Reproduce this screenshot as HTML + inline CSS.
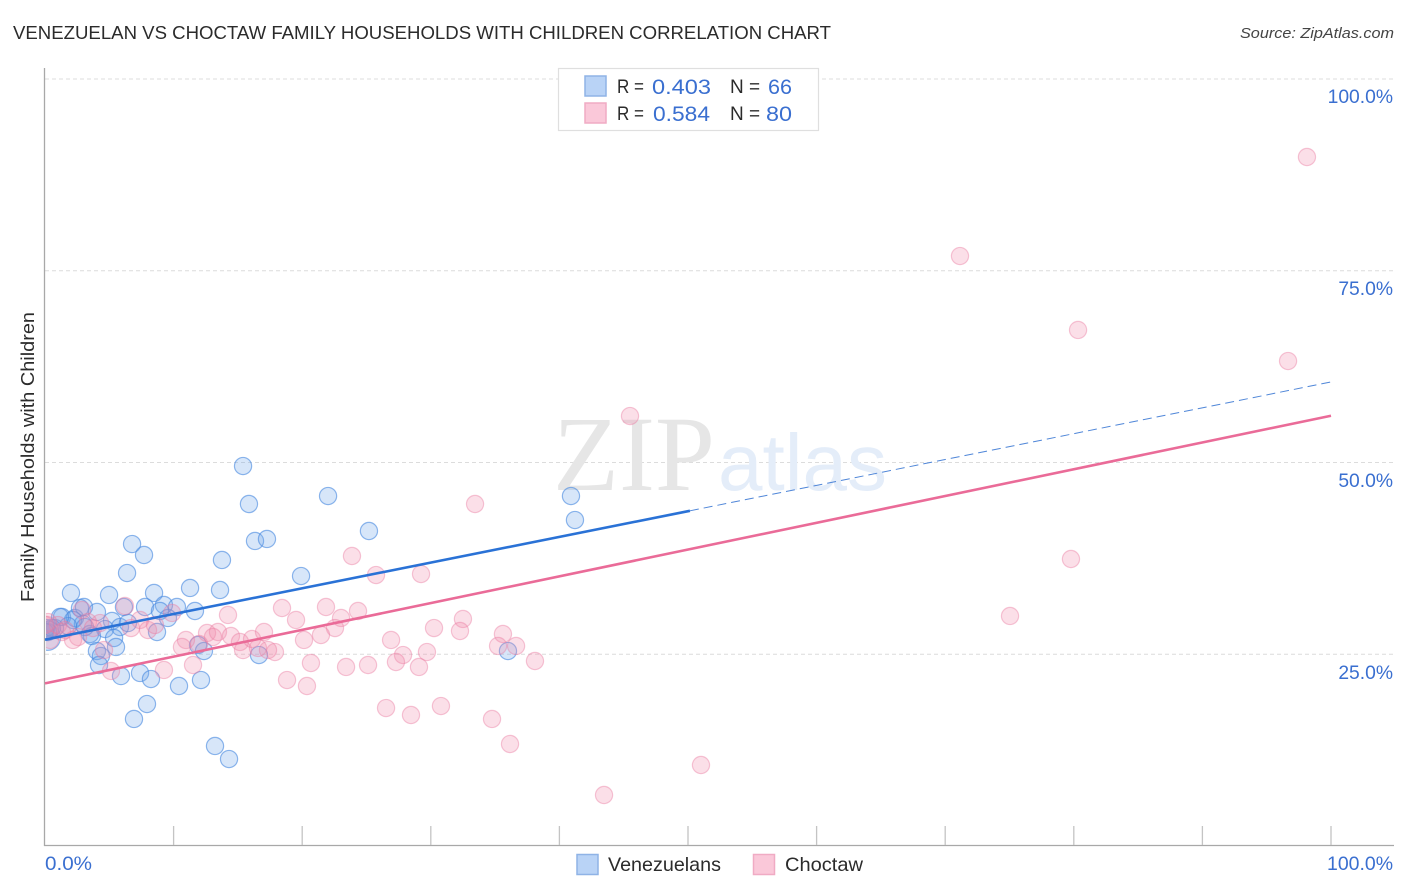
<!DOCTYPE html>
<html lang="en">
<head>
<meta charset="utf-8">
<title>Venezuelan vs Choctaw Family Households with Children Correlation Chart</title>
<style>
html,body{margin:0;padding:0;background:#fff;width:1406px;height:892px;overflow:hidden}
svg{display:block;font-family:"Liberation Sans",sans-serif}
</style>
</head>
<body>
<svg id="chart" width="1406" height="892" viewBox="0 0 1406 892" xmlns="http://www.w3.org/2000/svg">
  <defs><clipPath id="plot-clip"><rect x="46" y="60" width="1350" height="786"/></clipPath></defs>
  <rect x="0" y="0" width="1406" height="892" fill="#fff"/>
  <text x="13" y="39" font-size="18.5" fill="#2b2b2b" textLength="818" lengthAdjust="spacingAndGlyphs">VENEZUELAN VS CHOCTAW FAMILY HOUSEHOLDS WITH CHILDREN CORRELATION CHART</text>
  <text x="1394" y="38" font-size="15" font-style="italic" fill="#444" text-anchor="end" textLength="154" lengthAdjust="spacingAndGlyphs">Source: ZipAtlas.com</text>
  <g id="grid"></g>
  <g>
    <text x="553" y="490" font-family="'Liberation Serif',serif" font-size="107" fill="#e6e6e6" textLength="162" lengthAdjust="spacingAndGlyphs">ZIP</text>
    <text x="718" y="490" font-size="80" fill="#e4edf9" textLength="169" lengthAdjust="spacingAndGlyphs">atlas</text>
  </g>
  <g id="axes"></g>
  <g id="points" clip-path="url(#plot-clip)"></g>
  <g id="trends"></g>
  <g id="tick-labels"></g>
  <text transform="translate(34,457) rotate(-90)" font-size="18.5" fill="#2b2b2b" text-anchor="middle" textLength="290" lengthAdjust="spacingAndGlyphs">Family Households with Children</text>

  <g>
    <rect x="558.5" y="68.5" width="260" height="62" fill="#fff" stroke="#dfdfdf" stroke-width="1.2"/>
    <rect x="585" y="76" width="21" height="20" fill="#b9d3f6" stroke="#8fb3e6" stroke-width="1.5"/>
    <rect x="585" y="103" width="21" height="20" fill="#fac8d9" stroke="#f0abc4" stroke-width="1.5"/>
    <text x="617" y="93" font-size="19" fill="#2b2b2b" textLength="27" lengthAdjust="spacingAndGlyphs">R =</text>
    <text x="652" y="94" font-size="21" fill="#3a6fd0" textLength="59" lengthAdjust="spacingAndGlyphs">0.403</text>
    <text x="730" y="93" font-size="19" fill="#2b2b2b">N =</text>
    <text x="768" y="94" font-size="21" fill="#3a6fd0" textLength="24" lengthAdjust="spacingAndGlyphs">66</text>
    <text x="617" y="120" font-size="19" fill="#2b2b2b" textLength="27" lengthAdjust="spacingAndGlyphs">R =</text>
    <text x="653" y="121" font-size="21" fill="#3a6fd0" textLength="57" lengthAdjust="spacingAndGlyphs">0.584</text>
    <text x="730" y="120" font-size="19" fill="#2b2b2b">N =</text>
    <text x="766" y="121" font-size="21" fill="#3a6fd0" textLength="26" lengthAdjust="spacingAndGlyphs">80</text>
  </g>

  <g>
    <rect x="577" y="854.5" width="21" height="20" fill="#b9d3f6" stroke="#8fb3e6" stroke-width="1.5"/>
    <text x="608" y="871" font-size="19.5" fill="#2b2b2b" textLength="113" lengthAdjust="spacingAndGlyphs">Venezuelans</text>
    <rect x="753.5" y="854.5" width="21" height="20" fill="#fac8d9" stroke="#f0abc4" stroke-width="1.5"/>
    <text x="785" y="871" font-size="19.5" fill="#2b2b2b" textLength="78" lengthAdjust="spacingAndGlyphs">Choctaw</text>
  </g>
</svg>
<script>
// ---- chart data (percent units) ----
const venezuelanX = [15.40,15.86,22.01,25.19,40.90,41.21,6.77,7.70,16.33,17.26,13.76,6.38,19.91,2.02,4.98,8.48,11.28,13.61,6.14,7.78,9.25,10.26,11.66,1.32,2.33,2.72,3.03,4.04,9.56,8.94,5.21,4.67,5.83,6.45,8.71,2.95,3.50,3.65,5.37,5.52,4.04,4.35,4.20,2.18,1.79,0.78,0.39,0.23,1.17,3.11,0.08,11.90,12.36,16.64,36.00,7.39,5.91,8.24,10.42,12.13,7.93,6.92,13.22,14.31,0.00,0.54];
const venezuelanY = [49.54,44.59,45.63,41.07,45.63,42.50,39.37,37.94,39.77,40.03,37.29,35.59,35.20,32.99,32.73,32.99,33.64,33.38,31.16,31.16,31.42,31.16,30.64,29.86,29.73,31.03,31.16,30.51,29.73,30.64,29.34,28.29,28.55,29.07,27.90,28.94,27.64,27.38,27.12,25.95,25.42,24.77,23.60,29.47,28.68,28.42,28.16,27.90,29.86,28.55,28.42,26.21,25.42,24.90,25.42,22.56,22.16,21.77,20.86,21.64,18.51,16.56,13.04,11.34,27.90,28.42];
const choctawX = [98.13,71.15,80.33,96.66,45.49,33.44,79.78,23.87,25.74,29.24,75.04,6.22,2.88,18.43,21.85,24.34,14.23,19.52,23.02,32.50,30.25,32.27,22.55,21.46,20.14,35.61,26.91,35.23,36.63,29.70,27.84,27.29,29.08,38.10,25.12,23.41,20.68,18.82,20.37,26.52,28.46,30.79,34.76,36.16,51.01,43.47,6.69,7.39,8.01,9.88,10.96,12.60,13.45,13.06,14.46,11.98,10.65,15.16,15.40,16.10,17.03,16.56,17.88,17.34,9.25,11.51,5.13,4.59,2.57,2.18,1.56,1.01,0.23,1.32,4.28,0.39,0.00,3.34,3.73,8.55];
const choctawY = [89.83,76.92,67.28,63.23,56.06,44.59,37.42,37.81,35.33,35.46,29.99,31.29,30.77,31.03,31.16,30.64,30.12,29.47,29.73,29.60,28.42,28.03,28.42,27.51,26.86,27.64,26.86,26.08,26.08,25.29,24.90,23.99,23.34,24.12,23.60,23.34,23.86,21.64,20.86,17.99,17.08,18.25,16.56,13.30,10.56,6.65,28.42,29.47,28.16,30.38,26.86,27.77,27.90,27.25,27.38,26.34,25.95,26.60,25.55,26.99,27.90,25.82,25.29,25.55,22.95,23.60,22.82,25.55,27.25,26.86,28.16,28.81,29.20,27.90,29.07,26.86,28.81,29.20,28.42,28.81];
const largeVenezuelanX = [0.20];
const largeVenezuelanY = [27.2];
const largeChoctawX = [0.10];
const largeChoctawY = [28.4];
const venezuelanSolidX = [0, 50.15];
const venezuelanSolidY = [26.9, 43.7];
const venezuelanDashX = [50.15, 100];
const venezuelanDashY = [43.7, 60.5];
const choctawTrendX = [0, 100];
const choctawTrendY = [21.2, 56.1];
const yTicks = [25, 50, 75, 100];
const yTickLabels = ["25.0%", "50.0%", "75.0%", "100.0%"];
const xTicks = [10, 20, 30, 40, 50, 60, 70, 80, 90, 100];
const xEndValues = [0, 100];
const xEndLabels = ["0.0%", "100.0%"];

// ---- axis functions ----
const sx = v => 45 + v * 12.86;
const sy = v => 846 - v * 7.67;
const NS = "http://www.w3.org/2000/svg";
function make(parent, tag, attrs) {
  const el = document.createElementNS(NS, tag);
  for (const k in attrs) el.setAttribute(k, attrs[k]);
  document.getElementById(parent).appendChild(el);
  return el;
}

// gridlines and y tick labels
yTicks.forEach((t, i) => {
  const g = make("grid", "line", {x1: 45, x2: 1393, y1: sy(t), y2: sy(t), stroke: "#dcdcdc", "stroke-width": 1, "stroke-dasharray": "4 3"});
  
  
  const l = make("tick-labels", "text", {x: 1393, y: sy(t) + 24 - (t - 100) * 0.01, "font-size": 19.3, fill: "#3a6fd0", "text-anchor": "end"});
  l.textContent = yTickLabels[i];
  
  
});

// axes
const yAxis = make("axes", "line", {x1: 44.5, x2: 44.5, y1: 68, y2: 846, stroke: "#a8a8a8", "stroke-width": 1.3});


const xAxis = make("axes", "line", {x1: 44, x2: 1394, y1: 845.5, y2: 845.5, stroke: "#a8a8a8", "stroke-width": 1.3});


xTicks.forEach(t => {
  const tick = make("axes", "line", {x1: sx(t), x2: sx(t), y1: 826, y2: 845, stroke: "#c4c4c4", "stroke-width": 1.3});
  
  
});
xEndValues.forEach((t, i) => {
  const l = make("tick-labels", "text", {x: i === 0 ? sx(t) : 1393, y: 870, "font-size": 19.3, fill: "#3a6fd0", "text-anchor": i === 0 ? "start" : "end", textLength: i === 0 ? 47 : 66, lengthAdjust: "spacingAndGlyphs"});
  l.textContent = xEndLabels[i];
  
  
});

// points
largeVenezuelanX.forEach((v, i) => {
  const c = make("points", "circle", {cx: sx(v), cy: sy(largeVenezuelanY[i]), r: 13, fill: "#6ea5ea", "fill-opacity": 0.28, stroke: "#4a8ae0", "stroke-opacity": 0.6, "stroke-width": 1.2});
  
  
});
largeChoctawX.forEach((v, i) => {
  const c = make("points", "circle", {cx: sx(v), cy: sy(largeChoctawY[i]), r: 12, fill: "#f28cae", "fill-opacity": 0.28, stroke: "#e9799f", "stroke-opacity": 0.42, "stroke-width": 1.2});
  
  
});
venezuelanX.forEach((v, i) => {
  const c = make("points", "circle", {cx: sx(v), cy: sy(venezuelanY[i]), r: 8.6, fill: "#6ea5ea", "fill-opacity": 0.28, stroke: "#4a8ae0", "stroke-opacity": 0.62, "stroke-width": 1.2});
  
  
});
choctawX.forEach((v, i) => {
  const c = make("points", "circle", {cx: sx(v), cy: sy(choctawY[i]), r: 8.6, fill: "#f28cae", "fill-opacity": 0.28, stroke: "#e9799f", "stroke-opacity": 0.42, "stroke-width": 1.2});
  
  
});

// trend lines
const solid = make("trends", "line", {x1: sx(venezuelanSolidX[0]), y1: sy(venezuelanSolidY[0]), x2: sx(venezuelanSolidX[1]), y2: sy(venezuelanSolidY[1]), stroke: "#2a72d6", "stroke-width": 2.6});


const dash = make("trends", "line", {x1: sx(venezuelanDashX[0]), y1: sy(venezuelanDashY[0]), x2: sx(venezuelanDashX[1]), y2: sy(venezuelanDashY[1]), stroke: "#4f86d8", "stroke-width": 1, "stroke-dasharray": "9 5"});


const pinkLine = make("trends", "line", {x1: sx(choctawTrendX[0]), y1: sy(choctawTrendY[0]), x2: sx(choctawTrendX[1]), y2: sy(choctawTrendY[1]), stroke: "#ea6b98", "stroke-width": 2.6});


</script>
</body>
</html>
